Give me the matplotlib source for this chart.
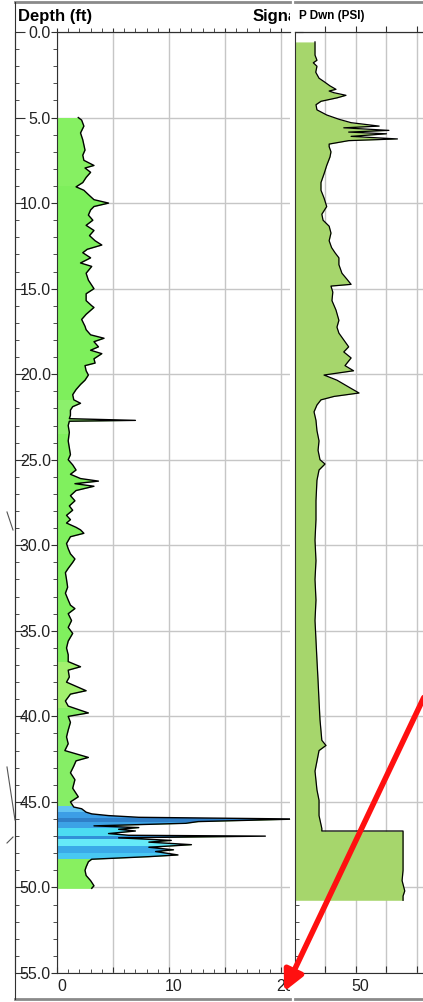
import numpy as np
import matplotlib.pyplot as plt
from matplotlib.lines import Line2D
from matplotlib.patches import FancyArrowPatch
from matplotlib.transforms import Bbox, TransformedBbox, ScaledTranslation
from matplotlib.ticker import MultipleLocator, FixedLocator, NullFormatter

plt.rcParams['font.family'] = ['Liberation Sans', 'DejaVu Sans']

# Signal track (left): depth in ft, amplitude
sig_depth = [5.0, 5.15, 5.5, 5.9, 6.3, 6.9, 7.2, 7.5, 7.8, 7.95, 8.2, 8.5, 8.8, 9.05, 9.25,
             9.5, 9.8, 10.0, 10.2, 10.4, 10.7, 11.0, 11.3, 11.6, 11.9, 12.2, 12.45, 12.7, 12.9,
             13.2, 13.5, 13.7, 14.1, 14.5, 15.0, 15.3, 15.7, 16.0, 16.1, 16.5, 16.8, 17.2, 17.4,
             17.7, 17.9, 18.1, 18.4, 18.6, 18.8, 19.1, 19.35, 19.5, 19.8, 20.05, 20.35, 20.6,
             20.9, 21.2, 21.5, 21.7, 21.9, 22.1, 22.4, 22.6, 22.7, 22.75, 23.0, 23.4, 23.9, 24.3,
             24.7, 25.0, 25.3, 25.6, 25.85, 26.1, 26.25, 26.4, 26.55, 26.8, 27.1, 27.4, 27.7,
             27.95, 28.25, 28.5, 28.7, 28.95, 29.1, 29.3, 29.5, 29.9, 30.2, 30.5, 30.8, 31.0,
             31.35, 31.6, 32.0, 32.45, 32.8, 33.2, 33.5, 33.7, 34.0, 34.4, 34.8, 35.15, 35.6,
             36.0, 36.4, 36.8, 37.1, 37.3, 37.7, 38.0, 38.5, 38.7, 39.1, 39.4, 39.8, 40.0, 40.35,
             40.8, 41.2, 41.6, 42.0, 42.4, 42.6, 42.9, 43.3, 43.7, 44.2, 44.5, 44.7, 45.0, 45.3,
             45.4, 45.6, 45.7, 45.8, 45.9, 46.0, 46.15, 46.25, 46.4, 46.5, 46.6, 46.7, 46.85,
             46.95, 47.0, 47.1, 47.25, 47.35, 47.5, 47.65, 47.8, 47.9, 48.1, 48.2, 48.35, 48.5,
             48.8, 49.0, 49.3, 49.6, 49.9, 50.05]
sig_value = [1.9, 2.2, 2.4, 2.1, 2.3, 2.5, 2.3, 2.4, 3.3, 2.5, 3.0, 2.6, 2.3, 1.7, 2.4,
             2.8, 3.3, 4.6, 3.3, 3.0, 2.8, 3.2, 2.6, 3.3, 2.9, 3.4, 4.0, 2.7, 2.3,
             3.0, 2.1, 3.1, 2.6, 2.8, 3.3, 2.6, 2.6, 3.1, 3.3, 2.6, 2.2, 2.5, 2.6,
             3.0, 4.2, 3.3, 3.7, 3.0, 4.0, 3.3, 3.4, 2.5, 2.6, 2.8, 2.5, 2.1,
             1.7, 1.4, 1.5, 2.1, 1.4, 1.2, 1.2, 1.1, 7.0, 1.1, 1.0, 1.1, 1.0, 1.1,
             1.2, 1.0, 1.4, 1.7, 1.2, 2.1, 3.7, 1.6, 3.3, 1.7, 1.2, 1.6, 1.1,
             1.4, 0.85, 1.2, 0.85, 1.7, 2.1, 2.4, 1.2, 0.85, 1.0, 1.2, 1.6, 1.4,
             1.0, 0.75, 0.85, 0.95, 0.75, 1.0, 1.2, 1.6, 1.0, 1.3, 1.0, 1.4, 1.0,
             0.85, 1.0, 1.0, 2.1, 1.0, 1.1, 0.85, 2.6, 1.2, 0.75, 1.0, 2.8, 1.0, 1.2,
             1.0, 0.85, 1.0, 0.7, 2.8, 1.7, 1.5, 1.2, 1.6, 1.4, 1.7, 1.9, 1.2, 1.5,
             2.2, 2.6, 3.1, 4.6, 7.3, 21.5, 12.6, 11.5, 3.3, 7.3, 5.5, 7.0, 4.6,
             6.4, 18.6, 5.5, 10.2, 8.2, 12.0, 8.2, 10.4, 8.8, 10.8, 8.2, 3.1, 2.8,
             2.6, 2.5, 2.6, 3.0, 3.3, 3.1]

# colour bands of the signal fill: (top, bottom, colour)
sig_bands = [(5.0, 9.0, '#86f062'), (9.0, 21.5, '#7eef5c'), (21.5, 23.5, '#8cf06c'),
             (23.5, 36.8, '#80f05e'), (36.8, 39.5, '#a2f06e'), (39.5, 45.25, '#86ee66'),
             (45.25, 45.6, '#62c4f2'), (45.6, 45.95, '#3c9ee6'), (45.95, 46.15, '#2f7fc8'),
             (46.15, 46.5, '#3ca2e6'), (46.5, 47.0, '#4cdcf2'), (47.0, 47.15, '#3090d8'),
             (47.15, 47.6, '#66eaf8'), (47.6, 48.0, '#3aaae8'), (48.0, 48.35, '#48c8f2'),
             (48.35, 50.1, '#88f060')]

# P Dwn track (right): depth in ft, pressure in PSI
pdwn_depth = [0.58, 1.35, 1.65, 1.8, 2.0, 2.35, 2.7, 2.9, 3.15, 3.35, 3.45, 3.55, 3.7, 3.85,
              4.05, 4.25, 4.55, 4.85, 5.1, 5.3, 5.5, 5.6, 5.75, 5.85, 5.95, 6.1, 6.25, 6.35,
              6.55, 6.7, 7.0, 7.3, 7.8, 8.25, 8.8, 9.25, 9.7, 10.2, 10.65, 11.0, 11.35, 11.75,
              12.2, 12.6, 12.9, 13.2, 13.6, 14.1, 14.45, 14.75, 14.85, 15.2, 15.7, 16.25, 16.85,
              17.25, 17.6, 18.0, 18.4, 18.7, 19.05, 19.5, 19.8, 20.05, 20.35, 20.75, 21.1, 21.3,
              21.5, 21.8, 22.2, 22.7, 23.3, 23.9, 24.45, 25.0, 25.25, 25.6, 26.2, 27.4, 28.5,
              29.7, 30.9, 32.0, 33.2, 34.4, 35.55, 36.7, 37.9, 39.1, 40.2, 41.4, 41.7, 42.0,
              43.2, 44.3, 44.9, 45.8, 46.55, 46.7, 46.7, 47.8, 49.0, 49.6, 50.2, 50.5, 50.75]
pdwn_value = [16.4, 16.4, 18.0, 15.0, 18.0, 17.0, 19.7, 23.8, 28.7, 33.6, 28.0, 32.0, 41.8, 34.4,
              21.3, 17.2, 18.0, 26.0, 36.0, 46.0, 69.0, 40.0, 77.0, 44.0, 75.0, 46.0, 84.0, 44.0,
              28.0, 28.0, 29.5, 28.7, 26.0, 24.0, 21.3, 21.3, 23.8, 26.0, 22.0, 23.0, 28.0, 29.5,
              28.0, 30.0, 32.8, 36.0, 36.0, 38.5, 42.6, 46.0, 29.5, 31.0, 30.3, 33.6, 36.0,
              34.4, 36.0, 40.0, 44.0, 40.0, 46.0, 41.0, 48.0, 23.8, 34.4, 44.0, 52.5, 32.0,
              21.3, 18.0, 15.6, 17.2, 18.0, 19.7, 18.9, 20.5, 24.6, 19.7, 18.0, 17.2, 17.2,
              16.4, 17.2, 16.4, 17.2, 16.4, 17.2, 18.0, 18.9, 19.7, 20.5, 22.0, 25.4, 19.7,
              16.4, 18.0, 19.7, 19.7, 22.0, 22.0, 88.6, 88.6, 88.6, 87.8, 90.0, 88.6, 88.6]

W, H = 423, 1002
fig = plt.figure(figsize=(W / 100, H / 100), dpi=100)
fig.patch.set_facecolor('white')


def rect(x0, y0, x1, y1):
    # pixel box (top-left origin) -> figure fraction rect
    return [x0 / W, 1 - y1 / H, (x1 - x0) / W, (y1 - y0) / H]


top_px, bot_px = 32, 973
edge = '#303030'
grid_c = '#c6c6c6'
label_shift = ScaledTranslation(4.5 / 100, 0, fig.dpi_scale_trans)

# depth track (thin frame with ticks only)
axd = fig.add_axes(rect(15, top_px, 57, bot_px))
axd.set_ylim(55, 0)
axd.set_xlim(0, 1)
for s in ['top', 'right', 'bottom']:
    axd.spines[s].set_visible(False)
axd.spines['left'].set_color(edge)
axd.set_xticks([])
axd.yaxis.set_major_locator(MultipleLocator(5))
axd.yaxis.set_minor_locator(MultipleLocator(1))
axd.tick_params(axis='y', which='major', direction='in', length=7, color=edge, labelleft=False)
axd.tick_params(axis='y', which='minor', direction='in', length=3, color=edge)
axd.patch.set_alpha(0)

# signal track
ax1 = fig.add_axes(rect(57, top_px, 290, bot_px))
ax1.set_ylim(55, 0)
ax1.set_xlim(0, 20.8)
fill = ax1.fill_betweenx(sig_depth, 0, sig_value, color=sig_bands[0][2], lw=0, zorder=2)
clip_path = fill.get_paths()[0]
for d0, d1, c in sig_bands:
    band = ax1.axhspan(d0, d1, color=c, lw=0, zorder=2.1)
    band.set_clip_path(clip_path, ax1.transData)
ax1.plot(sig_value, sig_depth, color='black', lw=1.0, zorder=3)

ax1.yaxis.set_major_locator(MultipleLocator(5))
ax1.yaxis.set_minor_locator(MultipleLocator(1))
ax1.yaxis.set_major_formatter(lambda v, p: f'{v:.1f}')
ax1.tick_params(axis='y', which='major', direction='out', length=4, color=edge,
                labelsize=11.5, pad=0.5, labelcolor='#222222')
ax1.tick_params(axis='y', which='minor', direction='out', length=3, color=edge)
ax1.xaxis.set_major_locator(FixedLocator([0, 5, 10, 15, 20]))
ax1.xaxis.set_minor_locator(MultipleLocator(1))
ax1.set_xticklabels(['0', '', '10', '', '20'])
ax1.tick_params(axis='x', which='both', direction='in', color=edge,
                labelsize=11.5, pad=4, labelcolor='#222222')
ax1.tick_params(axis='x', which='major', length=4)
ax1.tick_params(axis='x', which='minor', length=3)
clip_left = TransformedBbox(Bbox([[0, 0], [290 / W, 1]]), fig.transFigure)
for lab in ax1.get_xticklabels():
    lab.set_transform(lab.get_transform() + label_shift)
    lab.set_clip_box(clip_left)
    lab.set_clip_on(True)
ax1.grid(True, which='major', color=grid_c, lw=1.0, zorder=0)
ax1.set_axisbelow(True)
ax1.spines['right'].set_visible(False)
for s in ['top', 'bottom', 'left']:
    ax1.spines[s].set_color(edge)
top1 = ax1.secondary_xaxis('top')
top1.xaxis.set_major_locator(MultipleLocator(5))
top1.xaxis.set_minor_locator(MultipleLocator(1))
top1.xaxis.set_major_formatter(NullFormatter())
top1.tick_params(axis='x', which='both', direction='out', length=3, color=edge)
top1.spines['top'].set_color(edge)

# P Dwn track
ax2 = fig.add_axes(rect(295, top_px, 430, bot_px))
ax2.set_ylim(55, 0)
ax2.set_xlim(0, 110.7)
ax2.fill_betweenx(pdwn_depth, 0, pdwn_value, color='#a6d66c', lw=0, zorder=2)
ax2.plot(pdwn_value, pdwn_depth, color='black', lw=0.9, zorder=3)
ax2.yaxis.set_major_locator(MultipleLocator(5))
ax2.yaxis.set_minor_locator(MultipleLocator(1))
ax2.tick_params(axis='y', which='major', direction='in', length=6, color=edge, labelleft=False)
ax2.tick_params(axis='y', which='minor', direction='in', length=3, color=edge)
ax2.xaxis.set_major_locator(FixedLocator([25, 50, 75, 100]))
ax2.set_xticklabels(['', '50', '', ''])
ax2.tick_params(axis='x', which='major', direction='in', length=5, color=edge,
                labelsize=11.5, pad=4, labelcolor='#222222')
for lab in ax2.get_xticklabels():
    lab.set_transform(lab.get_transform() + label_shift)
ax2.grid(True, which='major', color=grid_c, lw=1.0, zorder=0)
ax2.set_axisbelow(True)
ax2.spines['right'].set_visible(False)
for s in ['top', 'bottom', 'left']:
    ax2.spines[s].set_color(edge)
top2 = ax2.secondary_xaxis('top')
top2.xaxis.set_major_locator(FixedLocator([25, 50, 75, 100]))
top2.xaxis.set_major_formatter(NullFormatter())
top2.tick_params(axis='x', which='major', direction='out', length=4, color=edge)
top2.spines['top'].set_color(edge)

# headers
fig.text(18 / W, 1 - 16 / H, 'Depth (ft)', fontsize=12, fontweight='bold', va='center', ha='left')
sig_t = fig.text(253 / W, 1 - 16 / H, 'Signal', fontsize=12, fontweight='bold', va='center', ha='left')
sig_t.set_clip_box(clip_left)
sig_t.set_clip_on(True)
fig.text(299 / W, 1 - 16 / H, 'P Dwn (PSI)', fontsize=8.5, fontweight='bold', va='center', ha='left')

# outer frame lines
for x0, x1 in [(15, 290), (295, 423)]:
    for y in [1.5, 999]:
        fig.add_artist(Line2D([x0 / W, x1 / W], [1 - y / H, 1 - y / H], color='#8a8a8a',
                              lw=2, transform=fig.transFigure))
fig.add_artist(Line2D([15 / W, 15 / W], [1 - 1.5 / H, 1 - 999 / H], color=edge,
                      lw=0.8, transform=fig.transFigure))

# stray pen strokes in the margin
for (xa, ya), (xb, yb) in [((7, 512), (13, 530)), ((7, 767), (15, 820)), ((7, 843), (13, 837))]:
    fig.add_artist(Line2D([xa / W, xb / W], [1 - ya / H, 1 - yb / H], color='#555555',
                          lw=0.8, transform=fig.transFigure))

# red pointer arrow
arrow = FancyArrowPatch((425 / W, 1 - 695 / H), (283 / W, 1 - 994 / H), transform=fig.transFigure,
                        arrowstyle='-|>', mutation_scale=30, lw=4, color='#ff1010')
fig.add_artist(arrow)

fig.savefig('out.png', dpi=100)
